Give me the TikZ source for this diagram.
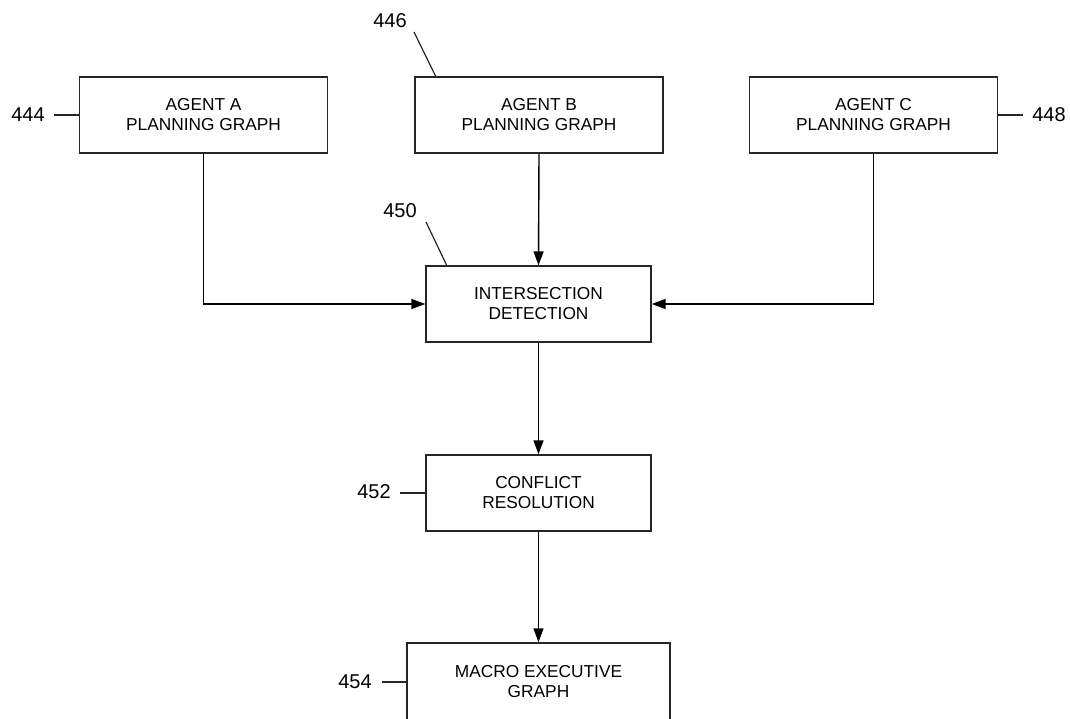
\documentclass[tikz,border=0pt]{standalone}
\usepackage{fontspec}
\setmainfont{Liberation Sans}
\usetikzlibrary{arrows.meta}
\begin{document}
\begin{tikzpicture}[x=1pt,y=-1pt,
  box/.style={draw=black!85,line width=1.4pt,rectangle,minimum height=76pt,inner sep=0pt,align=center,font=\fontsize{17.3}{20}\selectfont},
  conn/.style={draw=black,line width=1.4pt,-{Triangle[length=14pt,width=10pt]}},
  lead/.style={draw=black!85,line width=1.2pt},
  lbl/.style={inner sep=0pt,font=\fontsize{20}{22}\selectfont}]
\clip (0,0) rectangle (1070,719);
\fill[white] (0,0) rectangle (1070,719);
% boxes
\node[box,minimum width=248pt] (A) at (203.5,115) {AGENT A\\PLANNING GRAPH};
\node[box,minimum width=248pt] (B) at (539,115) {AGENT B\\PLANNING GRAPH};
\node[box,minimum width=248pt] (C) at (873.5,115) {AGENT C\\PLANNING GRAPH};
\node[box,minimum width=225pt] (I) at (538.5,304) {INTERSECTION\\DETECTION};
\node[box,minimum width=225pt] (R) at (538.5,493) {CONFLICT\\RESOLUTION};
\node[box,minimum width=263pt,minimum height=78pt] (M) at (538.5,682) {MACRO EXECUTIVE\\GRAPH};
% connectors
\draw[conn] (A.south) |- (I.west);
\draw[conn] (B.south) -- (I.north);
\draw[conn] (C.south) |- (I.east);
\draw[conn] (I.south) -- (R.north);
\draw[conn] (R.south) -- (M.north);
% reference labels
\node[lbl] (l444) at (28,115) {444};
\coordinate (e444) at (54,115);
\draw[lead] (e444) -- (A.west);
\node[lbl] (l446) at (390,21) {446};
\coordinate (s446) at (414,32);
\coordinate (e446) at (436,77);
\draw[lead] (s446) -- (e446);
\node[lbl] (l448) at (1049,115) {448};
\coordinate (e448) at (1023,115);
\draw[lead] (C.east) -- (e448);
\node[lbl] (l450) at (400,211) {450};
\coordinate (s450) at (426,222);
\coordinate (e450) at (447,266);
\draw[lead] (s450) -- (e450);
\node[lbl] (l452) at (374,492) {452};
\coordinate (e452) at (400,493);
\draw[lead] (e452) -- (R.west);
\node[lbl] (l454) at (355,682) {454};
\coordinate (e454) at (382,682);
\draw[lead] (e454) -- (M.west);
\end{tikzpicture}
\end{document}
